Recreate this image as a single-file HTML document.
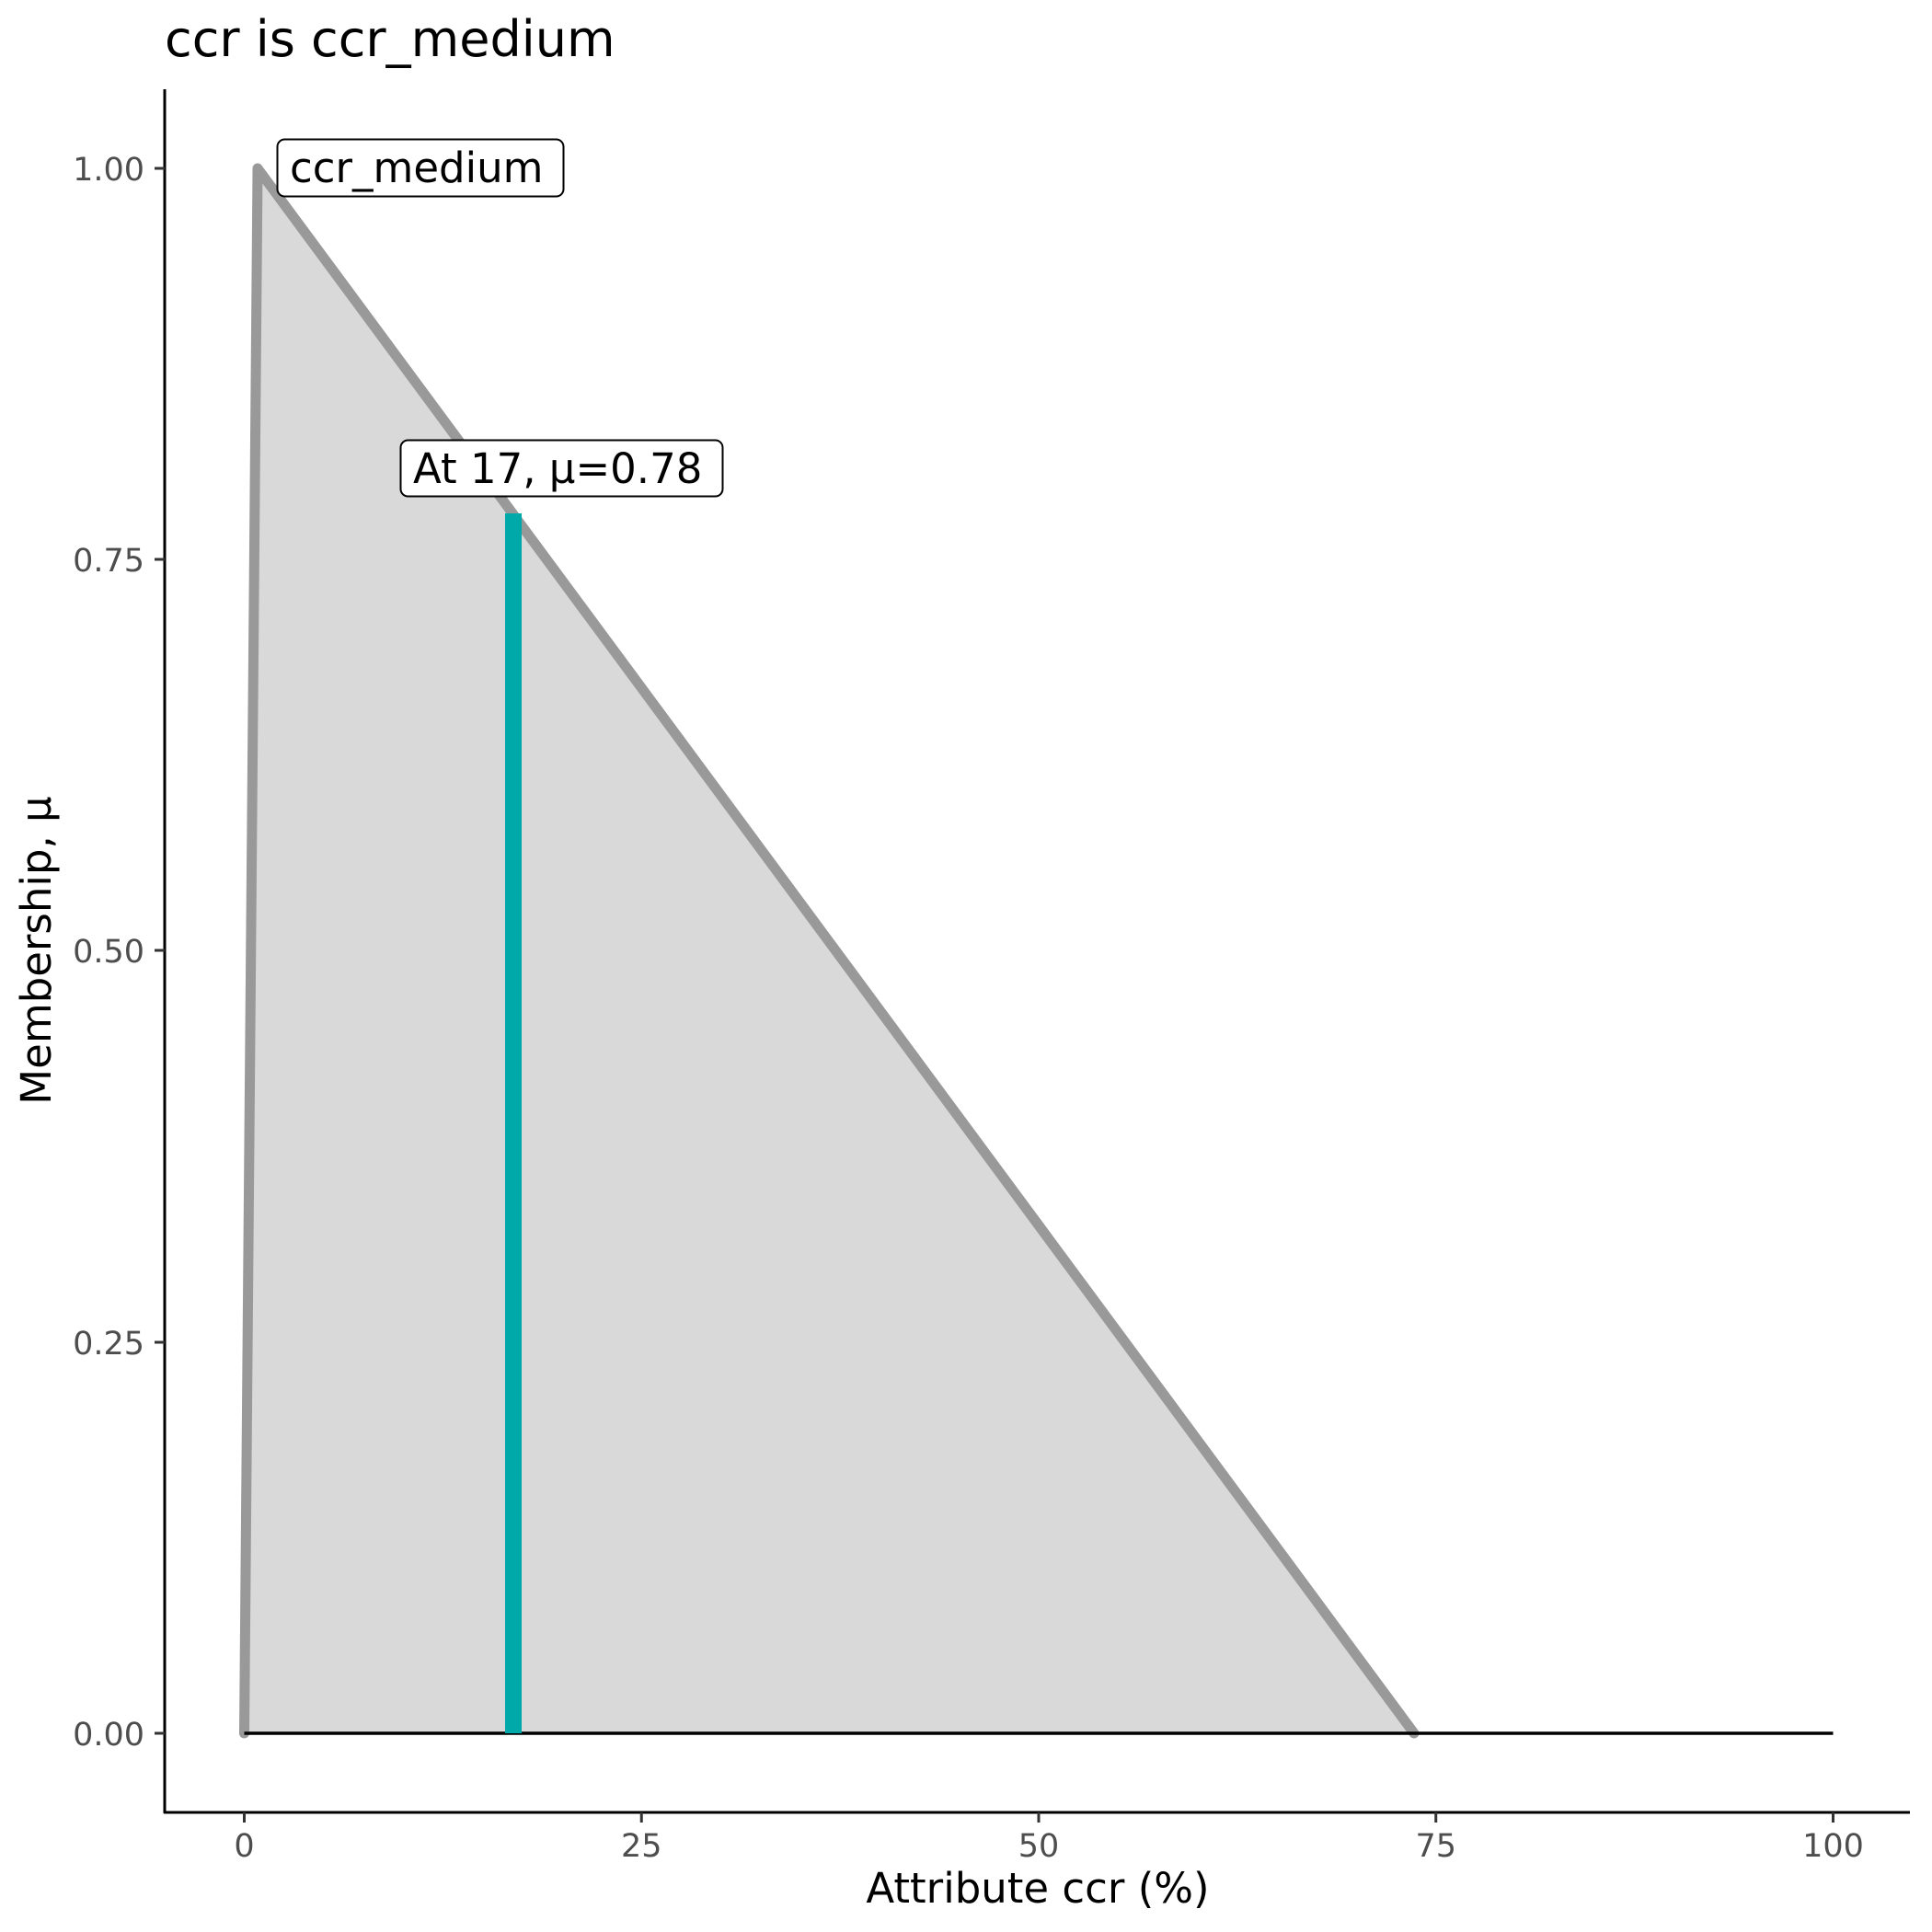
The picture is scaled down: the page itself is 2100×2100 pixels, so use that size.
<!DOCTYPE html>
<html><head><meta charset="utf-8"><style>
html,body{margin:0;padding:0;background:#fff}
svg{display:block}
text{font-family:"DejaVu Sans","Liberation Sans",sans-serif}
</style></head><body>
<svg width="2100" height="2100" viewBox="0 0 2100 2100" xmlns="http://www.w3.org/2000/svg">
<rect width="2100" height="2100" fill="#fff"/>
<text x="179" y="61" font-size="54" fill="#000">ccr is ccr_medium</text>
<polygon points="265.5,1884 280,183 1537,1884" fill="#d9d9d9"/>
<polyline points="265.5,1884 280,183 1537,1884" fill="none" stroke="#999" stroke-width="11" stroke-linejoin="round" stroke-linecap="round"/>
<line x1="265.5" y1="1884" x2="1992.5" y2="1884" stroke="#000" stroke-width="3.5"/>
<rect x="549" y="558" width="18" height="1326" fill="#00a9a9"/>
<rect x="301.5" y="151.5" width="311" height="62" rx="8" fill="#fff" stroke="#000" stroke-width="2"/>
<text x="315" y="198" font-size="45" fill="#000">ccr_medium</text>
<rect x="435.5" y="478.5" width="350" height="61" rx="8" fill="#fff" stroke="#000" stroke-width="2"/>
<text x="449" y="525" font-size="45" fill="#000">At 17, μ=0.78</text>
<line x1="179" y1="97" x2="179" y2="1971" stroke="#000" stroke-width="3"/>
<line x1="178" y1="1970" x2="2076" y2="1970" stroke="#000" stroke-width="3"/>
<g stroke="#333" stroke-width="3">
<line x1="168" y1="183" x2="179" y2="183"/><line x1="168" y1="608" x2="179" y2="608"/>
<line x1="168" y1="1033" x2="179" y2="1033"/><line x1="168" y1="1459" x2="179" y2="1459"/>
<line x1="168" y1="1884" x2="179" y2="1884"/>
<line x1="265.5" y1="1970" x2="265.5" y2="1981"/><line x1="697.25" y1="1970" x2="697.25" y2="1981"/>
<line x1="1129" y1="1970" x2="1129" y2="1981"/><line x1="1560.75" y1="1970" x2="1560.75" y2="1981"/>
<line x1="1992.5" y1="1970" x2="1992.5" y2="1981"/>
</g>
<g font-size="35" fill="#4d4d4d" text-anchor="end">
<text x="157" y="196">1.00</text><text x="157" y="621">0.75</text>
<text x="157" y="1046">0.50</text><text x="157" y="1472">0.25</text>
<text x="157" y="1897">0.00</text>
</g>
<g font-size="35" fill="#4d4d4d" text-anchor="middle">
<text x="265.5" y="2018">0</text><text x="697.25" y="2018">25</text><text x="1129" y="2018">50</text>
<text x="1560.75" y="2018">75</text><text x="1992.5" y="2018">100</text>
</g>
<text x="1128" y="2068" font-size="45" text-anchor="middle" fill="#000">Attribute ccr (%)</text>
<text transform="translate(55,1033) rotate(-90)" font-size="45" text-anchor="middle" fill="#000">Membership, μ</text>
</svg>
</body></html>
